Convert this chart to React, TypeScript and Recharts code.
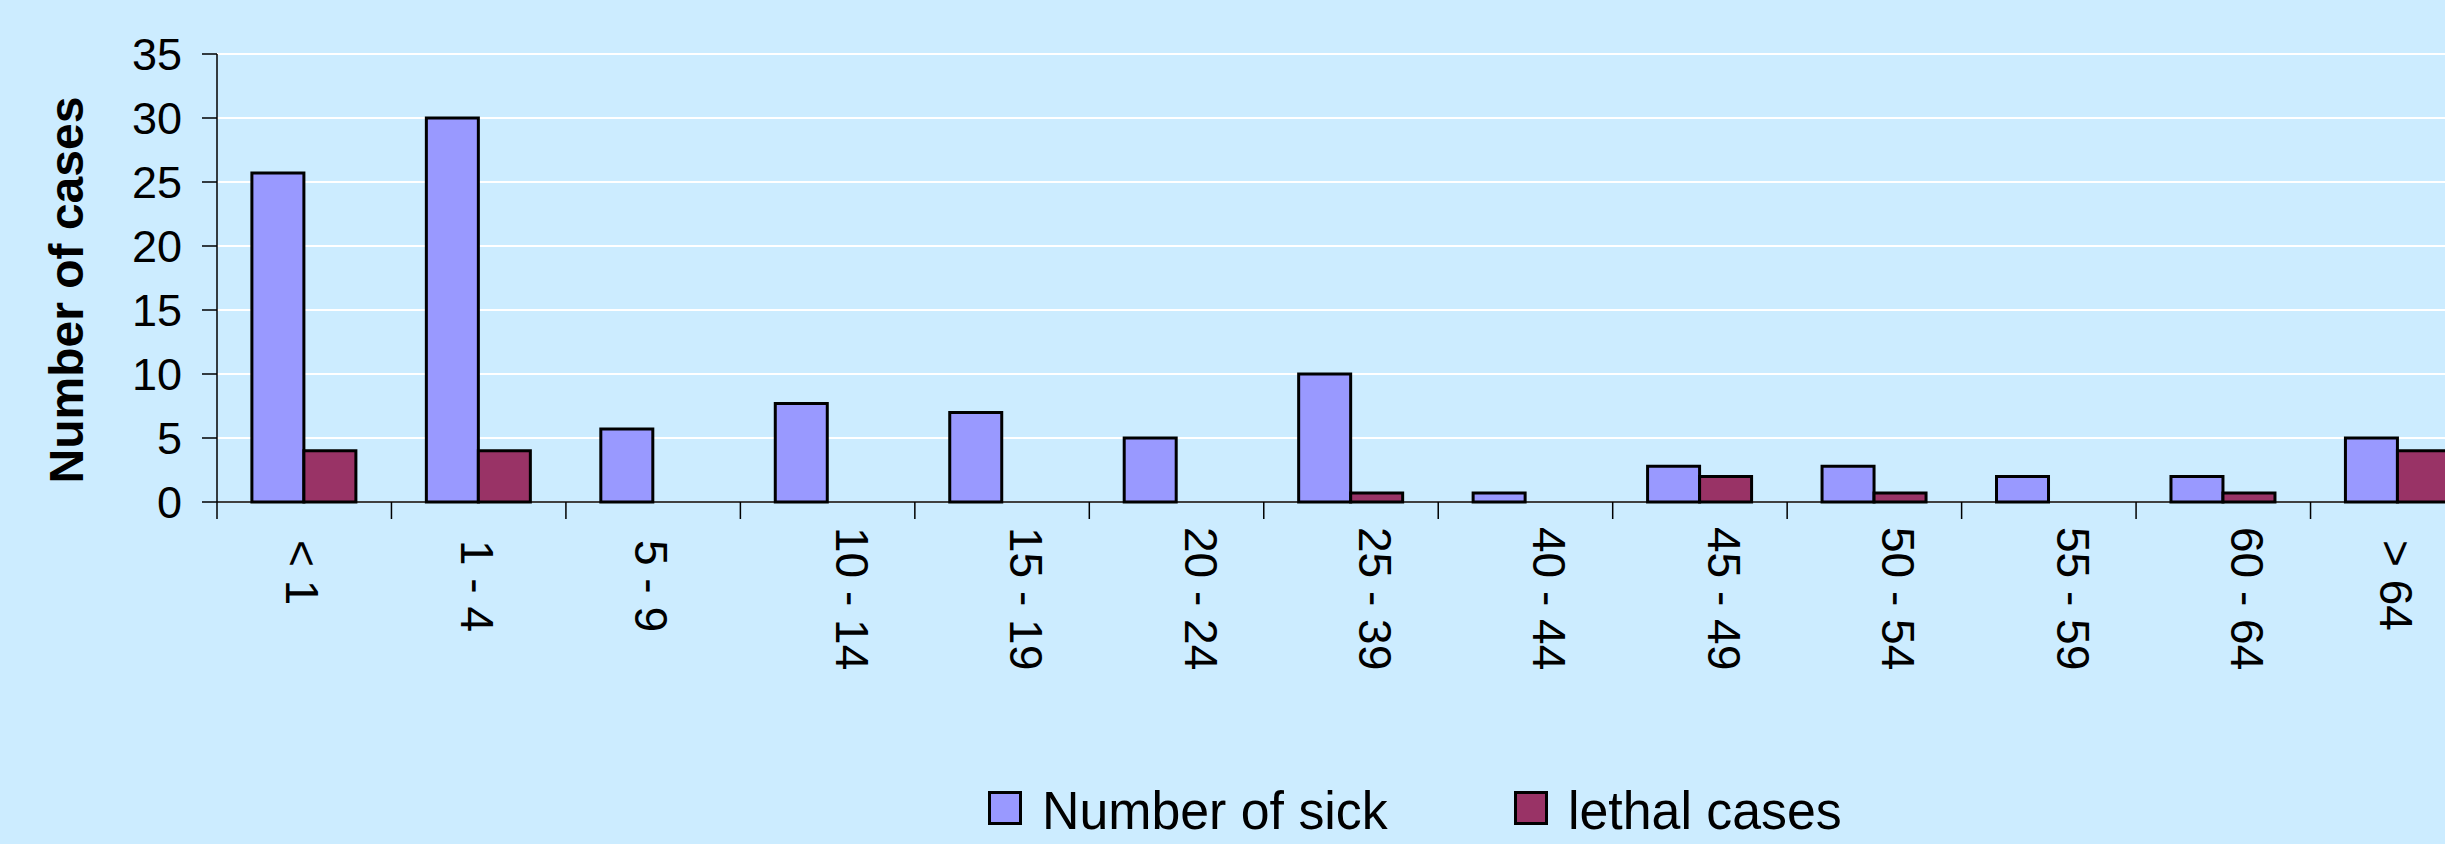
import React from "react";
import { BarChart, Bar, XAxis, YAxis, CartesianGrid } from "recharts";

const ageGroups = ["< 1", "1 - 4", "5 - 9", "10 - 14", "15 - 19", "20 - 24", "25 - 39", "40 - 44", "45 - 49", "50 - 54", "55 - 59", "60 - 64", "> 64"];
const sickCounts = [25.7, 30, 5.7, 7.7, 7, 5, 10, 0.7, 2.8, 2.8, 2, 2, 5];
const lethalCounts = [4, 4, 0, 0, 0, 0, 0.7, 0, 2, 0.7, 0, 0.7, 4];
const yTicks = [0, 5, 10, 15, 20, 25, 30, 35];

const SICK_NAME = "Number of sick";
const LETHAL_NAME = "lethal cases";
const Y_TITLE = "Number of cases";

const data = ageGroups.map((g, i) => ({ group: g, sick: sickCounts[i], lethal: lethalCounts[i] }));

const FONT = "'Liberation Sans', Arial, sans-serif";
const BG = "#CCECFF";
const BLUE = "#9999FF";
const RED = "#993366";

const CHART_W = 2500;
const CHART_H = 844;
const Y_AXIS_W = 217;
const RIGHT = 15;
const BAND = (CHART_W - Y_AXIS_W - RIGHT) / ageGroups.length;

// Excel-style category axis: tick marks sit between categories,
// labels rotated to read top-down
function AgeTick(props: any) {
  const { x, y, payload } = props;
  const label: string = payload.value;
  const long = label.length > 5;
  const dx = long ? 24 : -2;
  const dy = long ? 25 : 38;
  const bx = x - BAND / 2;
  return (
    <g>
      <line x1={bx} y1={y} x2={bx} y2={y + 17} stroke="#000" strokeWidth={1.5} />
      <text
        transform={`translate(${x + dx}, ${y + dy}) rotate(90)`}
        textAnchor="start"
        dominantBaseline="central"
        fontFamily={FONT}
        fontSize={46}
        fill="#000"
      >
        {label}
      </text>
    </g>
  );
}

function YTitle() {
  return (
    <text
      x={83}
      y={290}
      transform="rotate(-90, 83, 290)"
      textAnchor="middle"
      fontFamily={FONT}
      fontWeight="bold"
      fontSize={48}
      fill="#000"
    >
      {Y_TITLE}
    </text>
  );
}

function LegendItem({ left, color, text }: { left: number; color: string; text: string }) {
  return (
    <>
      <div
        style={{
          position: "absolute",
          left,
          top: 791,
          width: 34,
          height: 34,
          boxSizing: "border-box",
          border: "3px solid #000",
          background: color,
        }}
      />
      <div
        style={{
          position: "absolute",
          left: left + 54,
          top: 783,
          fontFamily: FONT,
          fontSize: 54,
          lineHeight: "54px",
          whiteSpace: "nowrap",
          color: "#000",
          transform: "scaleX(0.96)",
          transformOrigin: "left center",
        }}
      >
        {text}
      </div>
    </>
  );
}

export default function App() {
  return (
    <div
      style={{
        position: "absolute",
        left: 0,
        top: 0,
        width: 2445,
        height: 844,
        overflow: "hidden",
        background: BG,
      }}
    >
      <BarChart
        width={CHART_W}
        height={CHART_H}
        data={data}
        margin={{ top: 54, right: RIGHT, bottom: 0, left: 0 }}
        barCategoryGap="20%"
        barGap={0}
      >
        <CartesianGrid vertical={false} stroke="#FFFFFF" strokeWidth={2} />
        <XAxis
          dataKey="group"
          height={342}
          interval={0}
          tickLine={false}
          tickSize={0}
          tickMargin={0}
          axisLine={{ stroke: "#000", strokeWidth: 1.5 }}
          tick={<AgeTick />}
        />
        <YAxis
          width={Y_AXIS_W}
          domain={[0, 35]}
          ticks={yTicks}
          interval={0}
          tickSize={15}
          tickMargin={20}
          axisLine={{ stroke: "#000", strokeWidth: 1.5 }}
          tickLine={{ stroke: "#000", strokeWidth: 1.5 }}
          tick={{ fontFamily: FONT, fontSize: 45, fill: "#000" }}
          label={<YTitle />}
        />
        <Bar dataKey="sick" name={SICK_NAME} fill={BLUE} stroke="#000" strokeWidth={3} isAnimationActive={false} />
        <Bar dataKey="lethal" name={LETHAL_NAME} fill={RED} stroke="#000" strokeWidth={3} isAnimationActive={false} />
      </BarChart>
      <LegendItem left={988} color={BLUE} text={SICK_NAME} />
      <LegendItem left={1514} color={RED} text={LETHAL_NAME} />
    </div>
  );
}
